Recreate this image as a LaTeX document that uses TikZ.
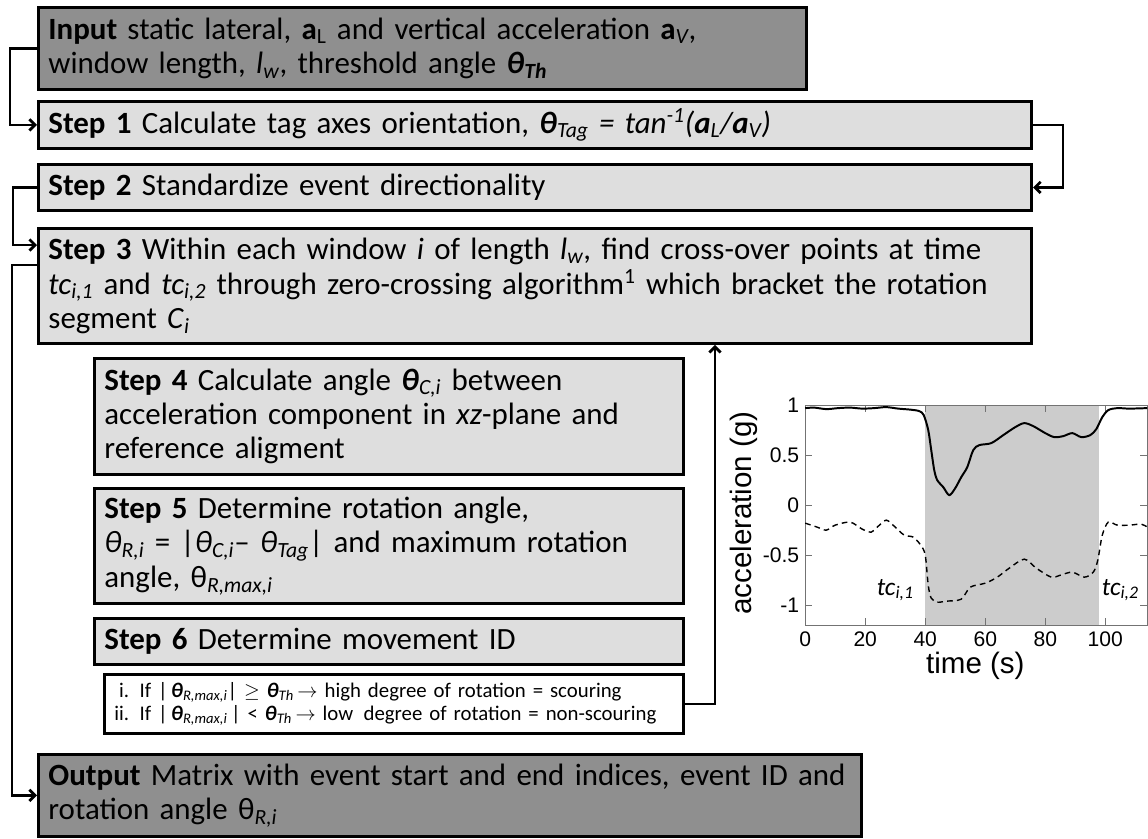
\documentclass[tikz,border=0pt]{standalone}
\usepackage{fontspec}
\setmainfont{Carlito}
\newfontfamily\plotfont{Liberation Sans}
\usepackage{tikz}
\usetikzlibrary{arrows.meta, positioning, calc}

\newcommand{\sbs}[1]{\textsubscript{\itshape #1}}
\newcommand{\bth}{\textbf{\textit{θ}}}

\begin{document}
\begin{tikzpicture}[x=0.025cm, y=-0.025cm, >={Straight Barb[length=4pt, width=8pt]},
			stepbox/.style={draw, line width=2pt, anchor=north west, align=left, fill=stepgray,
				inner xsep=0.25cm, inner ysep=0pt, font=\fontsize{22}{24.5}\selectfont},
			iobox/.style={stepbox, fill=iogray},
			rulebox/.style={stepbox, fill=white, font=\fontsize{14.8}{16.5}\selectfont},
			flow/.style={->, line width=2pt},
			axisline/.style={draw=black!55, line width=0.7pt},
			ticklabel/.style={font=\plotfont\fontsize{15}{18}\selectfont, inner sep=2pt},
			axislabel/.style={font=\plotfont\fontsize{21}{24}\selectfont, inner sep=0pt}
			]
			
			% Define colors
			\definecolor{iogray}{RGB}{143,143,143}
			\definecolor{stepgray}{RGB}{222,222,222}
			\definecolor{shadegray}{RGB}{204,204,204}
			
			\useasboundingbox (0,0) rectangle (1148,838);
			
			% 1. Input and steps 1-3
			\node[iobox, text width=18.7cm, minimum height=2.05cm] (input) at (37,6)
			{\textbf{Input} static lateral, \textbf{a}\textsubscript{L} and vertical acceleration \textbf{a}\sbs{V},\\
				window length, \textit{l}\sbs{w}, threshold angle \bth\textsubscript{\bfseries\itshape Th}};
			
			\node[stepbox, text width=24.325cm, minimum height=1.175cm] (step1) at (37,100)
			{\textbf{Step 1} Calculate tag axes orientation, \textit{\bth\sbs{Tag} = tan\textsuperscript{-1}(\textbf{a}\sbs{L}/\textbf{a}\sbs{V})}};
			
			\node[stepbox, text width=24.325cm, minimum height=1.15cm] (step2) at (37,163)
			{\textbf{Step 2} Standardize event directionality};
			
			\node[stepbox, text width=24.325cm, minimum height=2.875cm] (step3) at (37,227)
			{\textbf{Step 3} Within each window \textit{i} of length \textit{l}\sbs{w}, find cross-over points at time\\
				\textit{tc}\sbs{i,1} and \textit{tc}\sbs{i,2} through zero-crossing algorithm\textsuperscript{1} which bracket the rotation\\
				segment \textit{C}\sbs{i}};
			
			% 2. Steps 4-6 and the decision rule
			\node[stepbox, text width=14.225cm, minimum height=2.9cm] (step4) at (93,357)
			{\textbf{Step 4} Calculate angle \bth\sbs{C,i} between\\
				acceleration component in \textit{xz}-plane and\\
				reference aligment};
			
			\node[stepbox, text width=14.225cm, minimum height=2.875cm] (step5) at (93,487)
			{\textbf{Step 5} Determine rotation angle,\\
				\mbox{\textit{θ}\sbs{R,i} = |\textit{θ}\sbs{C,i}– \textit{θ}\sbs{Tag}| and maximum rotation}\\
				angle, θ\sbs{R,max,i}};
			
			\node[stepbox, text width=14.225cm, minimum height=1.15cm] (step6) at (93,617)
			{\textbf{Step 6} Determine movement ID};
			
			\node[rulebox, text width=13.975cm, minimum height=1.475cm] (rule) at (103,673)
			{\hphantom{i}i. If |\,\bth\sbs{R,max,i}| $\geq$ \bth\sbs{Th}\,$\rightarrow$ high degree of rotation = scouring\\
				ii. If |\,\bth\sbs{R,max,i}\,| < \bth\sbs{Th}\,$\rightarrow$ low\, degree of rotation = non-scouring};
			
			% 3. Output
			\node[iobox, text width=20.075cm, minimum height=2.05cm] (output) at (37,753)
			{\textbf{Output} Matrix with event start and end indices, event ID and\\
				rotation angle θ\sbs{R,i}};
			
			% 4. Connectors
			\draw[flow] (input.west) -- ++(-27,0) |- (step1.west);
			\draw[flow] (step1.east) -- ++(30,0) |- (step2.east);
			\draw[flow] (step2.west) -- ++(-24,0) |- ([yshift=-12.8pt]step3.north west);
			\draw[flow] ([yshift=-27pt]step3.north west) -- ++(-25,0) |- (output.west);
			\draw[flow] (rule.east) -- ++(30,0) coordinate (back) -- (back |- step3.south);
			
			% 5. Acceleration plot (time in s, acceleration in g)
			\begin{scope}[xshift=20.125cm, yshift=-12.625cm, x=0.075cm, y=2.5cm]
				\fill[shadegray] (40,-1.2) rectangle (98,1);
				\draw[axisline] (0,-1.2) rectangle (114,1);
				\foreach \t in {0,20,...,100} {
					\draw[axisline] (\t,-1.2) -- ++(0,0.07) (\t,1) -- ++(0,-0.07);
					\node[ticklabel, anchor=north] (xt\t) at (\t,-1.23) {\t};
				}
				\foreach \g/\lab in {-1/-1,-0.5/-0.5,0/0,0.5/0.5,1/1} {
					\draw[axisline] (0,\g) -- ++(2.3,0) (114,\g) -- ++(-2.3,0);
					\node[ticklabel, anchor=east] (yt\lab) at (-1,\g) {\lab};
				}
				\node[axislabel, rotate=90] (ylab) at (-20.5,-0.08) {acceleration (g)};
				\node[axislabel, anchor=north] (xlab) at (56.7,-1.47) {time (s)};
				
				% lateral (solid) and vertical (dashed) components
				\draw[line width=1.4pt] plot[smooth, tension=0.5] coordinates {
					(0,0.97) (3,0.975) (7,0.96) (11,0.97) (15,0.975) (19,0.965) (23,0.97)
					(27,0.98) (31,0.965) (35,0.955) (38,0.94) (39.5,0.9) (41,0.75) (42,0.55)
					(43,0.35) (44,0.25) (46,0.18) (48,0.1) (50,0.17) (52,0.28) (54,0.38)
					(56,0.55) (58,0.6) (62,0.62) (66,0.7) (70,0.78) (73,0.82) (76,0.79)
					(80,0.72) (83,0.68) (86,0.69) (89,0.72) (92,0.68) (95,0.7) (97,0.76)
					(99,0.88) (101,0.95) (104,0.97) (108,0.965) (114,0.97)
				};
				\draw[line width=1pt, dashed, dash pattern=on 4pt off 3pt] plot[smooth, tension=0.5] coordinates {
					(0,-0.18) (4,-0.22) (7,-0.25) (10,-0.2) (15,-0.17) (19,-0.24) (22,-0.27)
					(24,-0.22) (27,-0.15) (30,-0.22) (33,-0.3) (36,-0.32) (38.5,-0.4) (40,-0.5)
					(41,-0.8) (42,-0.93) (44,-0.97) (47,-0.96) (52,-0.94) (55,-0.82) (60,-0.78)
					(64,-0.72) (68,-0.63) (73,-0.54) (77,-0.63) (82,-0.72) (85,-0.7) (89,-0.67)
					(93,-0.72) (96,-0.67) (97.5,-0.55) (99,-0.3) (101,-0.17) (104,-0.2)
					(108,-0.2) (112,-0.19) (114,-0.22)
				};
				\node[font=\fontsize{18}{20}\selectfont\itshape] (tcone) at (30,-0.85) {tc\sbs{i,1}};
				\node[font=\fontsize{18}{20}\selectfont\itshape] (tctwo) at (105,-0.85) {tc\sbs{i,2}};
			\end{scope}
			
		\end{tikzpicture}
\end{document}
